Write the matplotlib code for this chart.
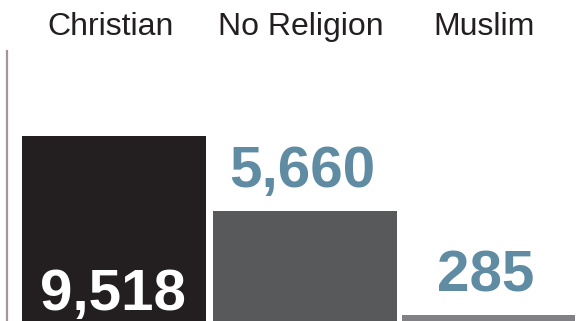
"""
Slupki: liczba osob wg religii (Christian / No Religion / Muslim).
"""

import matplotlib

matplotlib.use("Agg")
import matplotlib.pyplot as plt
import matplotlib.transforms as mtransforms

CATEGORIES = ["Christian", "No Religion", "Muslim"]
VALUES = [9518, 5660, 285]
VALUE_LABELS = ["9,518", "5,660", "285"]

BAR_POS = [0, 1, 1.96]
BAR_COLORS = ["#231f20", "#58595b", "#808085"]
BAR_WIDTHS = [0.963, 0.963, 0.906]
LABEL_BLUE = "#5f8ba3"
TEXT_DARK = "#231f20"

FIG_W, FIG_H, DPI = 5.85, 3.21, 100
PX_PER_UNIT = 185 / 9518  # skala pionowa w pikselach na jednostke
PX_PER_SLOT = 191  # skala pozioma


def main():
    plt.rcParams["font.family"] = ["Liberation Sans", "DejaVu Sans"]

    fig = plt.figure(figsize=(FIG_W, FIG_H), dpi=DPI)
    ax = fig.add_axes([7 / 585, 0, 578 / 585, 1])

    ax.bar(BAR_POS, VALUES, width=BAR_WIDTHS, color=BAR_COLORS, linewidth=0)

    ax.set_ylim(0, 321 / PX_PER_UNIT)
    ax.set_xlim((7 - 114) / PX_PER_SLOT, (585 - 114) / PX_PER_SLOT)

    # lewa linia osi jako jedyny widoczny element osi
    for side in ["top", "right", "bottom"]:
        ax.spines[side].set_visible(False)
    ax.spines["left"].set_color("#a8949a")
    ax.spines["left"].set_linewidth(1.6)
    ax.spines["left"].set_bounds(0, (321 - 51) / PX_PER_UNIT)
    ax.set_xticks([])
    ax.set_yticks([])
    ax.patch.set_alpha(0)

    # nazwy kategorii u gory
    trans = mtransforms.blended_transform_factory(ax.transData, ax.transAxes)
    for xi, name in zip(BAR_POS, CATEGORIES):
        ax.text(
            xi - 0.02,
            286 / 321,
            name,
            transform=trans,
            ha="center",
            va="baseline",
            fontsize=23,
            color=TEXT_DARK,
        )

    # wartosci: pierwsza w srodku slupka, reszta nad slupkami
    ax.annotate(
        VALUE_LABELS[0],
        xy=(BAR_POS[0], 0),
        xytext=(-1, 8),
        textcoords="offset points",
        ha="center",
        va="baseline",
        fontsize=42,
        fontweight="bold",
        color="white",
    )
    for xi, val, lab in zip(BAR_POS[1:], VALUES[1:], VALUE_LABELS[1:]):
        ax.annotate(
            lab,
            xy=(xi, val),
            xytext=(-2, 17),
            textcoords="offset points",
            ha="center",
            va="baseline",
            fontsize=42,
            fontweight="bold",
            color=LABEL_BLUE,
        )

    fig.savefig("out.png", dpi=DPI, facecolor="white")


if __name__ == "__main__":
    main()
